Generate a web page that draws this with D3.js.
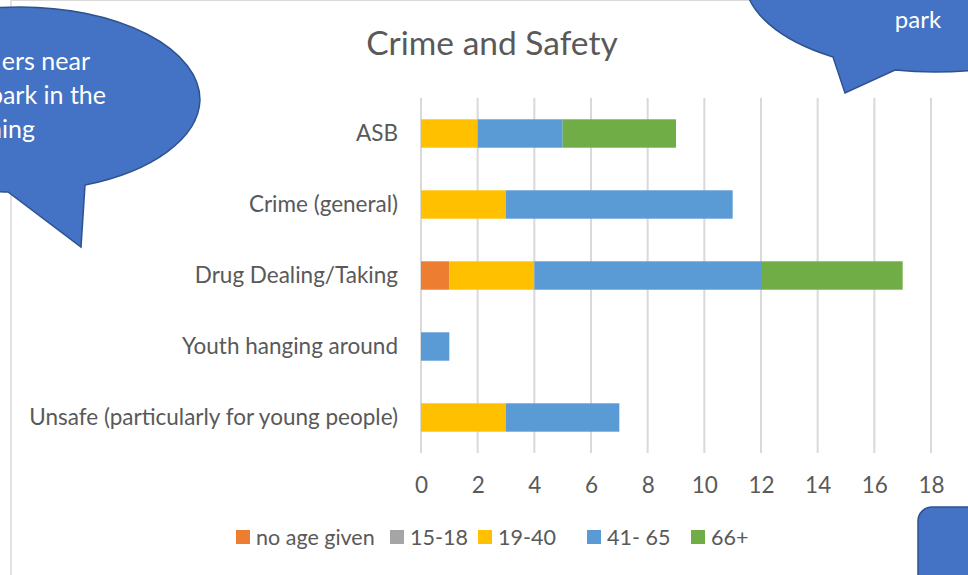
<!DOCTYPE html>
<html>
<head>
<meta charset="utf-8">
<script src="https://cdn.jsdelivr.net/npm/d3@7"></script>
<style>
  body { margin: 0; background: #fff; }
  svg { display: block; font-family: Lato, "Open Sans", sans-serif; }
</style>
</head>
<body>
<div id="chart"></div>
<script>
var width = 968,
    height = 575;

// ******* data ********* //
var categories = ["ASB", "Crime (general)", "Drug Dealing/Taking", "Youth hanging around", "Unsafe (particularly for young people)"];
var seriesNames = ["no age given", "15-18", "19-40", "41- 65", "66+"];
var seriesColors = ["#ED7D31", "#A5A5A5", "#FFC000", "#5B9BD5", "#70AD47"];
var noAge   = [0, 0, 1, 0, 0];
var age1518 = [0, 0, 0, 0, 0];
var age1940 = [2, 3, 3, 0, 3];
var age4165 = [3, 8, 8, 1, 4];
var age66   = [4, 0, 5, 0, 0];
var xTicks  = [0, 2, 4, 6, 8, 10, 12, 14, 16, 18];

var rows = categories.map(function(c, i) {
    return {
        cat: c,
        "no age given": noAge[i],
        "15-18": age1518[i],
        "19-40": age1940[i],
        "41- 65": age4165[i],
        "66+": age66[i]
    };
});

var svg = d3.select("#chart").append("svg")
    .attr("width", width)
    .attr("height", height);

// chart frame (partly visible)
svg.append("line").attr("x1", 11).attr("x2", 11).attr("y1", 0).attr("y2", height)
    .attr("stroke", "#d9d9d9").attr("stroke-width", 1.5);
svg.append("line").attr("x1", 11).attr("x2", width).attr("y1", 0.5).attr("y2", 0.5)
    .attr("stroke", "#d9d9d9").attr("stroke-width", 1);

var x = d3.scaleLinear().domain([0, 18]).range([421, 931]);
var y = d3.scaleBand().domain(categories).range([98, 453])
    .paddingInner(0.6).paddingOuter(0.3);

// ******** gridlines ********* //
svg.append("g").selectAll("line")
    .data(xTicks)
    .enter().append("line")
    .attr("x1", function(d) { return x(d); })
    .attr("x2", function(d) { return x(d); })
    .attr("y1", 98).attr("y2", 453)
    .attr("stroke", "#d9d9d9").attr("stroke-width", 2);

// ******** stacked bars ******* //
var stack = d3.stack().keys(seriesNames)(rows);
var color = d3.scaleOrdinal().domain(seriesNames).range(seriesColors);

svg.append("g").selectAll("g")
    .data(stack)
    .enter().append("g")
    .attr("fill", function(d) { return color(d.key); })
    .selectAll("rect")
    .data(function(d) { return d; })
    .enter().append("rect")
    .attr("x", function(d) { return x(d[0]); })
    .attr("y", function(d) { return y(d.data.cat); })
    .attr("width", function(d) { return x(d[1]) - x(d[0]); })
    .attr("height", y.bandwidth());

// ******** axes ******** //
var xAxis = svg.append("g")
    .attr("transform", "translate(0,453)")
    .call(d3.axisBottom(x).tickValues(xTicks).tickSize(0).tickPadding(24));
xAxis.select(".domain").remove();
xAxis.selectAll("text").attr("font-size", 22.5).attr("fill", "#595959")
    .attr("font-family", "Lato, sans-serif");

var yAxis = svg.append("g")
    .attr("transform", "translate(421,0)")
    .call(d3.axisLeft(y).tickSize(0).tickPadding(23));
yAxis.select(".domain").remove();
yAxis.selectAll("text").attr("font-size", 22.5).attr("fill", "#595959")
    .attr("font-family", "Lato, sans-serif");

// title
svg.append("text").attr("x", 492).attr("y", 55)
    .attr("text-anchor", "middle").attr("font-size", 33.5).attr("fill", "#595959")
    .text("Crime and Safety");

// ******** legend ******** //
var legendX = [236, 390, 478, 587, 691];
var legend = svg.append("g").selectAll("g")
    .data(seriesNames)
    .enter().append("g")
    .attr("transform", function(d, i) { return "translate(" + legendX[i] + ",530)"; });
legend.append("rect").attr("width", 14).attr("height", 14)
    .attr("fill", function(d) { return color(d); });
legend.append("text").attr("x", 20).attr("y", 15)
    .attr("font-size", 21.5).attr("fill", "#595959")
    .text(function(d) { return d; });

// ******** speech bubbles (cropped) ******** //
var bubbleFill = "#4472C4", bubbleStroke = "#2F528F";

svg.append("path")
    .attr("d", "M -160 100 A 180 93 0 0 1 200 100 A 180 93 0 0 1 85 185 L 81 247 L 8 192 A 180 93 0 0 1 -160 100 Z")
    .attr("fill", bubbleFill).attr("stroke", bubbleStroke).attr("stroke-width", 1.5);
var bubbleText = [["ers near", 90, 70], ["park in the", 106, 104], ["ning", 35, 138]];
svg.append("g").selectAll("text")
    .data(bubbleText)
    .enter().append("text")
    .attr("x", function(d) { return d[1]; })
    .attr("y", function(d) { return d[2]; })
    .attr("text-anchor", "end").attr("font-size", 25).attr("fill", "#fff")
    .text(function(d) { return d[0]; });

svg.append("path")
    .attr("d", "M 745 -20 A 190 92 0 0 0 833 57 L 845 93 L 895 70 A 190 92 0 0 0 1125 -20 Z")
    .attr("fill", bubbleFill).attr("stroke", bubbleStroke).attr("stroke-width", 1.5);
svg.append("text").attr("x", 918).attr("y", 28)
    .attr("text-anchor", "middle").attr("font-size", 24).attr("fill", "#fff")
    .text("park");

svg.append("rect").attr("x", 918).attr("y", 507).attr("width", 120).attr("height", 120)
    .attr("rx", 14).attr("fill", bubbleFill).attr("stroke", bubbleStroke).attr("stroke-width", 1.5);
</script>
</body>
</html>
